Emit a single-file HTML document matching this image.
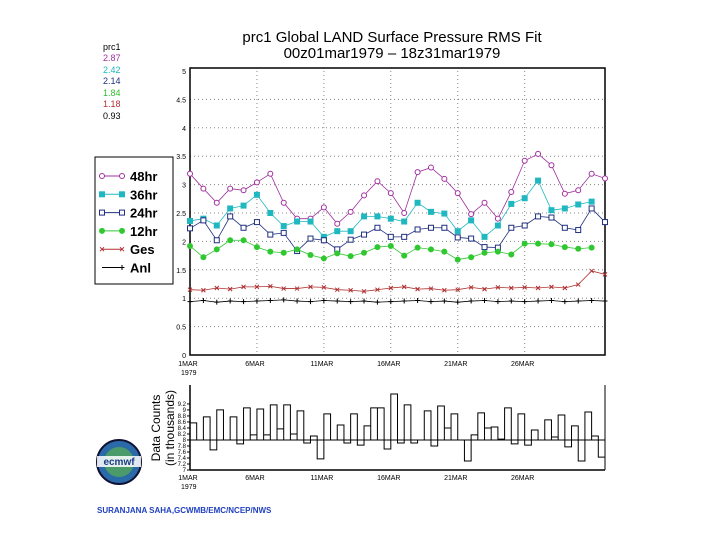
<!DOCTYPE html>
<html><head><meta charset="utf-8"><style>
body{margin:0;background:#fff;}
svg{display:block;font-family:"Liberation Sans",sans-serif;}
</style></head><body>
<svg id="chart" width="720" height="540" viewBox="0 0 720 540" xmlns="http://www.w3.org/2000/svg">
<rect width="720" height="540" fill="#fff"/>
<g font-size="15" text-anchor="middle" fill="#000">
<text x="392" y="42">prc1  Global LAND Surface Pressure RMS Fit</text>
<text x="392" y="58">00z01mar1979  –  18z31mar1979</text>
</g>
<g font-size="9">
<text x="103" y="50" fill="#000">prc1</text>
<text x="103" y="61" fill="#a0309f">2.87</text>
<text x="103" y="73" fill="#20b8c0">2.42</text>
<text x="103" y="84" fill="#203080">2.14</text>
<text x="103" y="96" fill="#30c030">1.84</text>
<text x="103" y="107" fill="#b03030">1.18</text>
<text x="103" y="119" fill="#000">0.93</text>
</g>
<g id="main"></g>
<g id="legend"></g>
<g id="counts"></g>
<g>
<circle cx="119" cy="462" r="22" fill="#2a6aa8" stroke="#113" stroke-width="2"/>
<circle cx="119" cy="462" r="15" fill="#4a9a6a"/>
<rect x="97" y="456" width="44" height="11" fill="#fff" opacity="0.85"/>
<text x="119" y="465" font-size="10" font-weight="bold" text-anchor="middle" fill="#1a3a8a">ecmwf</text>
</g>
<text x="97" y="513" font-size="8" font-weight="bold" fill="#2040c0">SURANJANA SAHA,GCWMB/EMC/NCEP/NWS</text>
</svg>
<script>
const days = [0,1,2,3,4,5,6,7,8,9,10,11,12,13,14,15,16,17,18,19,20,21,22,23,24,25,26,27,28,29,30,31];
const s48 = [3.19,2.93,2.68,2.93,2.9,3.04,3.19,2.68,2.4,2.4,2.6,2.31,2.52,2.81,3.06,2.85,2.5,3.22,3.3,3.1,2.85,2.48,2.68,2.4,2.87,3.42,3.54,3.34,2.84,2.9,3.19,3.11];
const s36 = [2.36,2.4,2.28,2.58,2.63,2.82,2.5,2.27,2.35,2.35,2.08,2.18,2.18,2.44,2.44,2.4,2.35,2.68,2.52,2.49,2.18,2.37,2.08,2.28,2.66,2.76,3.07,2.55,2.58,2.65,2.7];
const s24 = [2.23,2.37,2.02,2.44,2.24,2.34,2.12,2.15,1.83,2.05,2.02,1.86,2.03,2.12,2.24,2.08,2.08,2.21,2.24,2.24,2.07,2.05,1.9,1.89,2.24,2.28,2.44,2.42,2.24,2.2,2.58,2.34];
const s12 = [1.92,1.72,1.86,2.02,2.02,1.9,1.82,1.8,1.86,1.76,1.7,1.79,1.74,1.8,1.9,1.92,1.75,1.89,1.86,1.82,1.68,1.72,1.8,1.82,1.77,1.96,1.96,1.95,1.9,1.87,1.89];
const sGes = [1.15,1.14,1.18,1.16,1.2,1.2,1.21,1.17,1.17,1.2,1.19,1.15,1.14,1.12,1.15,1.18,1.2,1.16,1.17,1.14,1.15,1.19,1.16,1.19,1.18,1.19,1.18,1.2,1.18,1.24,1.48,1.42];
const sAnl = [0.94,0.96,0.93,0.95,0.94,0.95,0.96,0.97,0.95,0.94,0.96,0.95,0.94,0.95,0.93,0.94,0.95,0.96,0.94,0.95,0.93,0.95,0.96,0.94,0.95,0.94,0.95,0.96,0.94,0.95,0.96,0.95];
const yTicks = [0,0.5,1,1.5,2,2.5,3,3.5,4,4.5,5];
const yTickLabels = ["0","0.5","1","1.5","2","2.5","3","3.5","4","4.5","5"];
const xTickDays = [0,5,10,15,20,25];
const xTickLabels = ["1MAR","6MAR","11MAR","16MAR","21MAR","26MAR"];
const countVals = [8.57,8,8.77,7.67,9,8,8.77,7.87,9.07,8.17,9.03,8.17,9.17,8.37,9.17,8.2,8.97,7.9,8.13,7.37,8.87,8,8.5,7.9,8.87,7.83,8.47,9.07,9.07,7.7,9.53,7.9,9.17,7.9,8,8.97,7.8,9.13,8.4,8.87,8,7.3,8.17,8.9,8.4,8.43,8.03,9.07,7.87,8.87,7.83,8.33,8,8.67,8.1,8.83,7.77,8.47,7.3,8.93,8.13,7.43];
const countTicks = [7,7.2,7.4,7.6,7.8,8,8.2,8.4,8.6,8.8,9,9.2];
const countTickLabels = ["7","7.2","7.4","7.6","7.8","8","8.2","8.4","8.6","8.8","9","9.2"];
const countBase = 8;

const NS="http://www.w3.org/2000/svg";
function mk(tag, parent, attrs){const e=document.createElementNS(NS,tag);for(const k in attrs)e.setAttribute(k,attrs[k]);parent.appendChild(e);return e;}
const L=190,R=605,T=71,B=355;
const xs=d=>L+(R-L)*d/31;
const ys=v=>B-(B-T)*v/5;
const main=document.getElementById('main');
// grid
yTicks.forEach((v,i)=>{
  if(v>0&&v<5){const g=mk('line',main,{x1:L,x2:R,y1:ys(v),y2:ys(v),stroke:'#888','stroke-dasharray':'1,3','stroke-width':1});
  
  }
  const t=mk('text',main,{x:L-4,y:ys(v)+3,'font-size':7,'text-anchor':'end',fill:'#000'});t.textContent=yTickLabels[i];
  
  
});
xTickDays.forEach((d,i)=>{
  if(d>0){const g=mk('line',main,{x1:xs(d),x2:xs(d),y1:T,y2:B,stroke:'#888','stroke-dasharray':'1,3'});
  
  }
  const t=mk('text',main,{x:xs(d)-2,y:366,'font-size':7,'text-anchor':'middle',fill:'#000'});t.textContent=xTickLabels[i];
  
  
});
const yr=mk('text',main,{x:181,y:375,'font-size':7,fill:'#000'});yr.textContent='1979';


const frame=mk('rect',main,{x:L,y:T-3,width:R-L,height:B-T+3,fill:'none',stroke:'#000','stroke-width':1.5});



function marker(g,type,x,y,c){
  if(type==='circle')mk('circle',g,{cx:x,cy:y,r:2.5,fill:'#fff',stroke:c,'stroke-width':1});
  else if(type==='sqfill')mk('rect',g,{x:x-3,y:y-3,width:6,height:6,fill:c});
  else if(type==='sq')mk('rect',g,{x:x-2.5,y:y-2.5,width:5,height:5,fill:'#fff',stroke:c,'stroke-width':1});
  else if(type==='dot')mk('circle',g,{cx:x,cy:y,r:3,fill:c});
  else if(type==='x'){mk('path',g,{d:`M${x-2},${y-2}L${x+2},${y+2}M${x-2},${y+2}L${x+2},${y-2}`,stroke:c,'stroke-width':1});}
  else if(type==='plus'){mk('path',g,{d:`M${x-2.5},${y}L${x+2.5},${y}M${x},${y-2.5}L${x},${y+2.5}`,stroke:c,'stroke-width':1});}
}
const series=[
 {name:'series-48hr',vals:s48,c:'#a0309f',m:'circle',lab:'48hr'},
 {name:'series-36hr',vals:s36,c:'#20b8c0',m:'sqfill',lab:'36hr'},
 {name:'series-24hr',vals:s24,c:'#203080',m:'sq',lab:'24hr'},
 {name:'series-12hr',vals:s12,c:'#30c830',m:'dot',lab:'12hr'},
 {name:'series-ges',vals:sGes,c:'#b03030',m:'x',lab:'Ges'},
 {name:'series-anl',vals:sAnl,c:'#000',m:'plus',lab:'Anl'}];
series.forEach(s=>{
  const g=mk('g',main,{});
  
  
  const pts=s.vals.map((v,i)=>[xs(days[i]),ys(v)]);
  mk('polyline',g,{points:pts.map(p=>p.join(',')).join(' '),fill:'none',stroke:s.c,'stroke-width':0.8});
  pts.forEach(p=>marker(g,s.m,p[0],p[1],s.c));
});
// legend
const lg=document.getElementById('legend');
mk('rect',lg,{x:95,y:157,width:78,height:127,fill:'#fff',stroke:'#000','stroke-width':1});
series.forEach((s,i)=>{
  const y=176+i*18.3;
  const e=mk('g',lg,{});
  
  
  mk('line',e,{x1:102,x2:122,y1:y,y2:y,stroke:s.c,'stroke-width':1});
  if(s.m!=='plus'){marker(e,s.m,102,y,s.c);}
  marker(e,s.m,122,y,s.c);
  const t=mk('text',e,{x:130,y:y+5,'font-size':13,'font-weight':'bold',fill:'#000'});t.textContent=s.lab;
});
// counts plot
const cg=document.getElementById('counts');
const cT=385,cB=470,cBot=7,cTop=9.83;
const cy=v=>cB-(cB-cT)*(v-cBot)/(cTop-cBot);
const cx=i=>L+(R-L)*i/62;
mk('line',cg,{x1:L,y1:cT,x2:L,y2:cB,stroke:'#000','stroke-width':1.5});
mk('line',cg,{x1:L,y1:cB,x2:R,y2:cB,stroke:'#000','stroke-width':1.5});
mk('line',cg,{x1:R,y1:cT,x2:R,y2:cB,stroke:'#000','stroke-width':1});
countTicks.forEach((v,i)=>{
  mk('line',cg,{x1:L-3,x2:L,y1:cy(v),y2:cy(v),stroke:'#000'});
  const t=mk('text',cg,{x:L-4,y:cy(v)+2,'font-size':6,'text-anchor':'end',fill:'#000'});t.textContent=countTickLabels[i];
  
  
});
const baseLine=mk('line',cg,{x1:L,x2:R,y1:cy(countBase),y2:cy(countBase),stroke:'#000','stroke-width':1});


let d='';
countVals.forEach((v,i)=>{const y=cy(v),b=cy(countBase);d+=`M${cx(i)},${b}L${cx(i)},${y}L${cx(i+1)},${y}L${cx(i+1)},${b}`;});
const bars=mk('path',cg,{d:d,fill:'none',stroke:'#000','stroke-width':1});


xTickDays.forEach((dd,i)=>{
  const t=mk('text',cg,{x:xs(dd)-2,y:480,'font-size':7,'text-anchor':'middle',fill:'#000'});t.textContent=xTickLabels[i];
  
  
});
const yr2=mk('text',cg,{x:181,y:489,'font-size':7,fill:'#000'});yr2.textContent='1979';


const ttl=mk('text',cg,{x:0,y:0,'font-size':12,'text-anchor':'middle',fill:'#000',transform:'translate(160,428) rotate(-90)'});
ttl.textContent='Data Counts';


const ttl2=mk('text',cg,{x:0,y:0,'font-size':12,'text-anchor':'middle',fill:'#000',transform:'translate(174,428) rotate(-90)'});
ttl2.textContent='(in thousands)';


</script>
</body></html>
